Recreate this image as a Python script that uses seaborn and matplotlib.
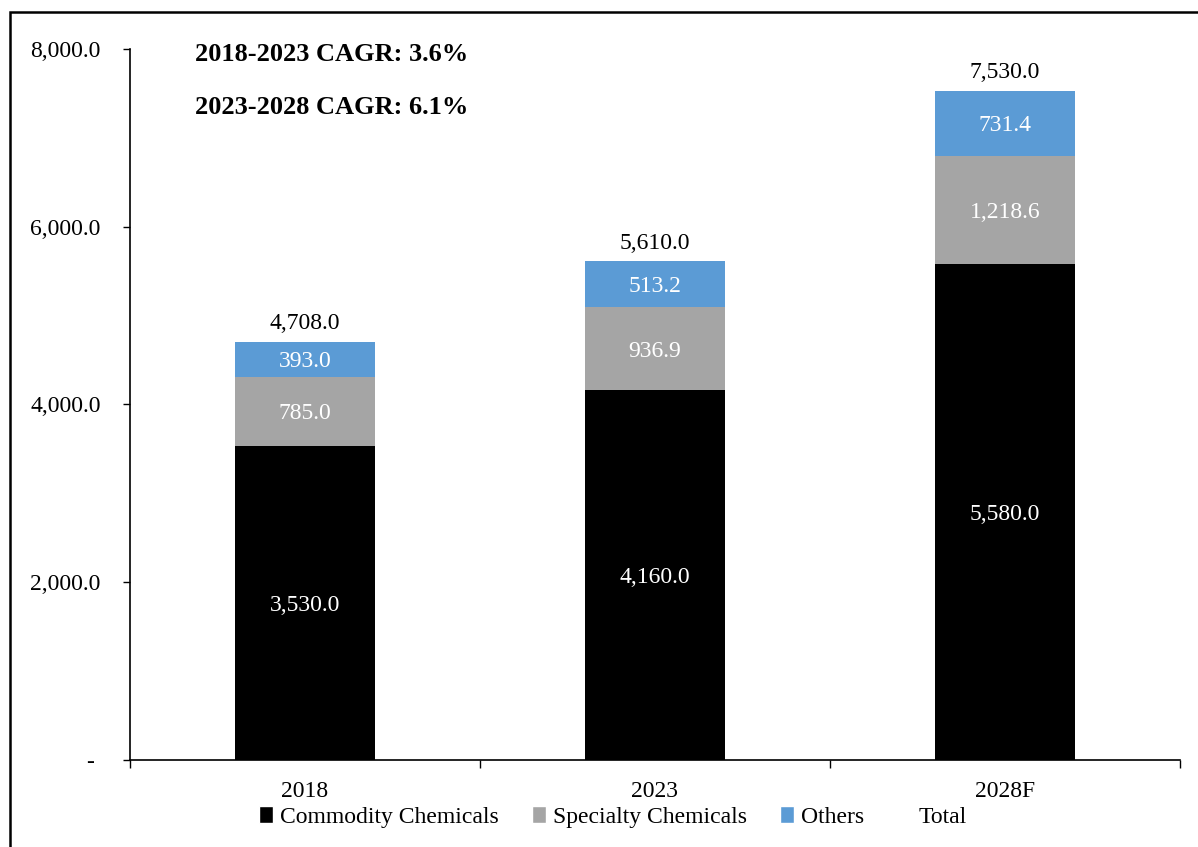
import matplotlib
matplotlib.use("Agg")
import matplotlib.pyplot as plt
import seaborn as sns
import pandas as pd
import numpy as np
from matplotlib.patches import Rectangle, Patch
from matplotlib.lines import Line2D

categories = ["2018", "2023", "2028F"]
commodity = [3530.0, 4160.0, 5580.0]
specialty = [785.0, 936.9, 1218.6]
others = [393.0, 513.2, 731.4]
totals = [4708.0, 5610.0, 7530.0]
series_names = ["Commodity Chemicals", "Specialty Chemicals", "Others", "Total"]
cagr_texts = ["2018-2023 CAGR: 3.6%", "2023-2028 CAGR: 6.1%"]
yticks = [0, 2000, 4000, 6000, 8000]

colors = {"Commodity Chemicals": "#000000", "Specialty Chemicals": "#A5A5A5", "Others": "#5B9BD5"}

sns.set_theme(style="white")
plt.rcParams["font.family"] = ["Liberation Serif", "DejaVu Serif"]
plt.rcParams["text.color"] = "black"
plt.rcParams["xtick.color"] = "black"
plt.rcParams["ytick.color"] = "black"
plt.rcParams["xtick.labelcolor"] = "black"
plt.rcParams["ytick.labelcolor"] = "black"
FS = 17

df = pd.DataFrame({"cat": categories, "c": commodity, "s": specialty, "o": others})
df["cs"] = df["c"] + df["s"]
df["cso"] = df["cs"] + df["o"]

fig = plt.figure(figsize=(11.98, 8.47), dpi=100)
ax = fig.add_axes([130/1198, 1-760/847, (1180-130)/1198, (760-49)/847])

sns.barplot(data=df, x="cat", y="cso", color=colors["Others"], width=0.4, ax=ax, saturation=1, edgecolor="none")
sns.barplot(data=df, x="cat", y="cs", color=colors["Specialty Chemicals"], width=0.4, ax=ax, saturation=1, edgecolor="none")
sns.barplot(data=df, x="cat", y="c", color=colors["Commodity Chemicals"], width=0.4, ax=ax, saturation=1, edgecolor="none")

ax.set_xlim(-0.5, 2.5)
ax.set_ylim(0, 8000)
ax.set_xlabel("")
ax.set_ylabel("")

# segment labels
for i in range(len(categories)):
    c, s, o, t = commodity[i], specialty[i], others[i], totals[i]
    ax.text(i, c/2, f"{c:,.1f}", ha="center", va="center_baseline", color="white", fontsize=FS)
    ax.text(i, c + s/2, f"{s:,.1f}", ha="center", va="center_baseline", color="white", fontsize=FS)
    ax.text(i, c + s + o/2, f"{o:,.1f}", ha="center", va="center_baseline", color="white", fontsize=FS)
    ax.text(i, c + s + o + 235, f"{t:,.1f}", ha="center", va="center_baseline", color="black", fontsize=FS)

# y axis
ax.set_yticks(yticks)
ax.set_yticklabels([f"{v:,.1f}" if v else "- " for v in yticks], fontsize=FS)
ax.tick_params(axis="y", direction="out", length=5, width=1, pad=16, left=True)

# x axis
ax.set_xticks(range(len(categories)))
ax.set_xticklabels(categories, fontsize=FS)
ax.tick_params(axis="x", which="major", length=0, pad=15)
ax.set_xticks([-0.5, 0.5, 1.5, 2.5], minor=True)
ax.tick_params(axis="x", which="minor", direction="out", length=6, width=1, bottom=True)

for sp in ["top", "right"]:
    ax.spines[sp].set_visible(False)
for sp in ["left", "bottom"]:
    ax.spines[sp].set_color("black")
    ax.spines[sp].set_linewidth(1.2)

# CAGR
fig.text(195/1198, 1-52/847, cagr_texts[0], fontsize=19, fontweight="bold", ha="left", va="center_baseline")
fig.text(195/1198, 1-105/847, cagr_texts[1], fontsize=19, fontweight="bold", ha="left", va="center_baseline")

# legend
handles = [
    Patch(facecolor=colors["Commodity Chemicals"]),
    Patch(facecolor=colors["Specialty Chemicals"]),
    Patch(facecolor=colors["Others"]),
    Line2D([], [], linestyle="none"),
]
fig.legend(handles, series_names, loc="center", bbox_to_anchor=(613/1198, 1-817/847), ncol=4,
           frameon=False, fontsize=FS, handlelength=0.6, handleheight=0.7, handletextpad=0.3,
           columnspacing=1.4)

# figure border (left and top visible)
fig.add_artist(Rectangle((10/1198, -0.2), 1.2, 1.2 - 12/847, transform=fig.transFigure,
                         fill=False, edgecolor="black", linewidth=1.8, clip_on=False))

fig.savefig("out.png", dpi=100)
